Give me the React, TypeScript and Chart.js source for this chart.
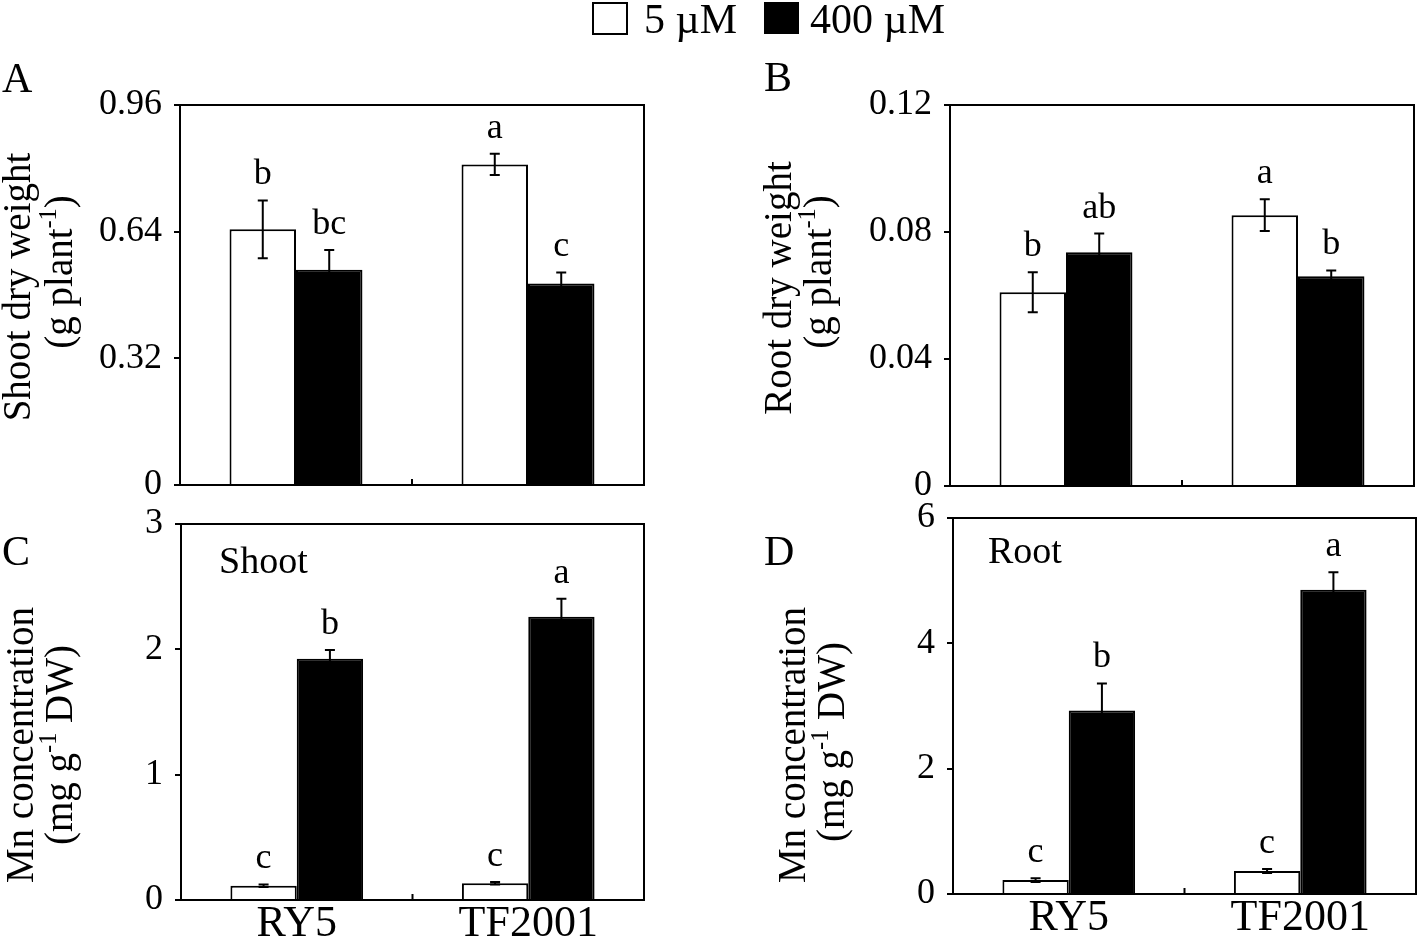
import React, { useEffect, useRef } from "react";
import { Chart, registerables } from "chart.js";

Chart.register(...registerables);

// ---------------- DATA ----------------
const categories = ["RY5", "TF2001"];
const seriesLabels = ["5 µM", "400 µM"];

// A: shoot dry weight (g plant-1)
const shootDW5 = [0.646, 0.81];
const shootDW400 = [0.544, 0.509];
const shootDWErr5 = [0.073, 0.027];
const shootDWErr400 = [0.05, 0.028];
const shootDWLetters5 = ["b", "a"];
const shootDWLetters400 = ["bc", "c"];
const shootDWTicks = [0, 0.32, 0.64, 0.96];
const shootDWTickLabels = ["0", "0.32", "0.64", "0.96"];

// B: root dry weight (g plant-1)
const rootDW5 = [0.061, 0.0853];
const rootDW400 = [0.0736, 0.0661];
const rootDWErr5 = [0.0063, 0.005];
const rootDWErr400 = [0.0059, 0.0018];
const rootDWLetters5 = ["b", "a"];
const rootDWLetters400 = ["ab", "b"];
const rootDWTicks = [0, 0.04, 0.08, 0.12];
const rootDWTickLabels = ["0", "0.04", "0.08", "0.12"];

// C: shoot Mn concentration (mg g-1 DW)
const shootMn5 = [0.114, 0.133];
const shootMn400 = [1.925, 2.26];
const shootMnErr5 = [0.01, 0.01];
const shootMnErr400 = [0.07, 0.144];
const shootMnLetters5 = ["c", "c"];
const shootMnLetters400 = ["b", "a"];
const shootMnTicks = [0, 1, 2, 3];
const shootMnTickLabels = ["0", "1", "2", "3"];

// D: root Mn concentration (mg g-1 DW)
const rootMn5 = [0.223, 0.367];
const rootMn400 = [2.93, 4.856];
const rootMnErr5 = [0.03, 0.03];
const rootMnErr400 = [0.43, 0.28];
const rootMnLetters5 = ["c", "c"];
const rootMnLetters400 = ["b", "a"];
const rootMnTicks = [0, 2, 4, 6];
const rootMnTickLabels = ["0", "2", "4", "6"];

// ---------------- LAYOUT / STYLE ----------------
const W = 1417;
const H = 940;
const FONT = "'Liberation Serif', 'Times New Roman', 'DejaVu Serif', serif";

type Seg = { t: string; sup?: boolean };
type TitleLine = { segs: Seg[]; x: number; cy: number };

type PanelCfg = {
  left: number;
  right: number;
  top: number;
  bottom: number;
  xHeight: number;
  showX: boolean;
  yTicks: number[];
  yTickLabels: string[];
  d5: number[];
  d400: number[];
  e5: number[];
  e400: number[];
  l5: string[];
  l400: string[];
  titles: TitleLine[];
  letter: { t: string; x: number; y: number };
  note?: { t: string; x: number; y: number };
  legend?: boolean;
};

const panels: PanelCfg[] = [
  {
    left: 180, right: 644, top: 105, bottom: 485, xHeight: 0, showX: false,
    yTicks: shootDWTicks, yTickLabels: shootDWTickLabels,
    d5: shootDW5, d400: shootDW400, e5: shootDWErr5, e400: shootDWErr400,
    l5: shootDWLetters5, l400: shootDWLetters400,
    titles: [
      { segs: [{ t: "Shoot dry weight" }], x: 30, cy: 287 },
      { segs: [{ t: "(g plant" }, { t: "-1", sup: true }, { t: ")" }], x: 72, cy: 272 },
    ],
    letter: { t: "A", x: 2, y: 92 },
    legend: true,
  },
  {
    left: 950, right: 1414, top: 105, bottom: 486, xHeight: 0, showX: false,
    yTicks: rootDWTicks, yTickLabels: rootDWTickLabels,
    d5: rootDW5, d400: rootDW400, e5: rootDWErr5, e400: rootDWErr400,
    l5: rootDWLetters5, l400: rootDWLetters400,
    titles: [
      { segs: [{ t: "Root dry weight" }], x: 791, cy: 288 },
      { segs: [{ t: "(g plant" }, { t: "-1", sup: true }, { t: ")" }], x: 831, cy: 272 },
    ],
    letter: { t: "B", x: 764, y: 91 },
  },
  {
    left: 181, right: 644, top: 524, bottom: 900, xHeight: 40, showX: true,
    yTicks: shootMnTicks, yTickLabels: shootMnTickLabels,
    d5: shootMn5, d400: shootMn400, e5: shootMnErr5, e400: shootMnErr400,
    l5: shootMnLetters5, l400: shootMnLetters400,
    titles: [
      { segs: [{ t: "Mn concentration" }], x: 33, cy: 745 },
      { segs: [{ t: "(mg g" }, { t: "-1", sup: true }, { t: " DW)" }], x: 72, cy: 745 },
    ],
    letter: { t: "C", x: 2, y: 565 },
    note: { t: "Shoot", x: 219, y: 573 },
  },
  {
    left: 953, right: 1416, top: 518, bottom: 894, xHeight: 40, showX: true,
    yTicks: rootMnTicks, yTickLabels: rootMnTickLabels,
    d5: rootMn5, d400: rootMn400, e5: rootMnErr5, e400: rootMnErr400,
    l5: rootMnLetters5, l400: rootMnLetters400,
    titles: [
      { segs: [{ t: "Mn concentration" }], x: 805, cy: 745 },
      { segs: [{ t: "(mg g" }, { t: "-1", sup: true }, { t: " DW)" }], x: 844, cy: 742 },
    ],
    letter: { t: "D", x: 764, y: 565 },
    note: { t: "Root", x: 988, y: 563 },
  },
];

function drawRotatedRich(ctx: CanvasRenderingContext2D, segs: Seg[], baselineX: number, centerY: number, size: number) {
  const supSize = size * 0.62;
  ctx.save();
  ctx.translate(baselineX, centerY);
  ctx.rotate(-Math.PI / 2);
  ctx.textAlign = "left";
  ctx.textBaseline = "alphabetic";
  ctx.fillStyle = "#000";
  let total = 0;
  const widths = segs.map((s) => {
    ctx.font = `${s.sup ? supSize : size}px ${FONT}`;
    const w = ctx.measureText(s.t).width;
    total += w;
    return w;
  });
  let x = -total / 2;
  segs.forEach((s, i) => {
    ctx.font = `${s.sup ? supSize : size}px ${FONT}`;
    ctx.fillText(s.t, x, s.sup ? -size * 0.4 : 0);
    x += widths[i];
  });
  ctx.restore();
}

function makeExtrasPlugin(p: PanelCfg) {
  return {
    id: "extras",
    afterDraw(chart: any) {
      const ctx: CanvasRenderingContext2D = chart.ctx;
      const ca = chart.chartArea;
      const xs = chart.scales.x;
      const ys = chart.scales.y;
      ctx.save();
      // error bars + significance letters
      const errs = [p.e5, p.e400];
      const vals = [p.d5, p.d400];
      const lets = [p.l5, p.l400];
      ctx.strokeStyle = "#000";
      ctx.lineWidth = 2;
      for (let di = 0; di < 2; di++) {
        const meta = chart.getDatasetMeta(di);
        meta.data.forEach((bar: any, j: number) => {
          const v = vals[di][j];
          const e = errs[di][j];
          const x = bar.x;
          const yTop = ys.getPixelForValue(v + e);
          const yBot = ys.getPixelForValue(Math.max(v - e, 0));
          const cap = 5;
          ctx.beginPath();
          ctx.moveTo(x, yTop);
          ctx.lineTo(x, yBot);
          ctx.moveTo(x - cap, yTop);
          ctx.lineTo(x + cap, yTop);
          ctx.moveTo(x - cap, yBot);
          ctx.lineTo(x + cap, yBot);
          ctx.stroke();
          ctx.fillStyle = "#000";
          ctx.font = `36px ${FONT}`;
          ctx.textAlign = "center";
          ctx.textBaseline = "alphabetic";
          ctx.fillText(lets[di][j], x, yTop - 16);
        });
      }
      // box
      ctx.lineWidth = 2;
      ctx.strokeStyle = "#000";
      ctx.strokeRect(ca.left, ca.top, ca.right - ca.left, ca.bottom - ca.top);
      // middle tick
      const mx = (xs.getPixelForValue(0) + xs.getPixelForValue(1)) / 2;
      ctx.beginPath();
      ctx.moveTo(mx, ca.bottom);
      ctx.lineTo(mx, ca.bottom - 6);
      ctx.stroke();
      // axis titles
      p.titles.forEach((t) => drawRotatedRich(ctx, t.segs, t.x, t.cy, 39));
      // panel letter
      ctx.fillStyle = "#000";
      ctx.textAlign = "left";
      ctx.textBaseline = "alphabetic";
      ctx.font = `42px ${FONT}`;
      ctx.fillText(p.letter.t, p.letter.x, p.letter.y);
      // note
      if (p.note) {
        ctx.font = `38px ${FONT}`;
        ctx.fillText(p.note.t, p.note.x, p.note.y);
      }
      // legend
      if (p.legend) {
        ctx.lineWidth = 2;
        ctx.fillStyle = "#fff";
        ctx.fillRect(593, 3, 34, 31);
        ctx.strokeRect(593, 3, 34, 31);
        ctx.fillStyle = "#000";
        ctx.fillRect(764, 2, 35, 32);
        ctx.font = `42px ${FONT}`;
        ctx.fillText(seriesLabels[0], 644, 33);
        ctx.fillText(seriesLabels[1], 810, 33);
      }
      ctx.restore();
    },
  };
}

function buildConfig(p: PanelCfg): any {
  return {
    type: "bar",
    data: {
      labels: categories,
      datasets: [
        {
          label: seriesLabels[0],
          data: p.d5,
          backgroundColor: "#ffffff",
          borderColor: "#000000",
          borderWidth: 2,
          categoryPercentage: 0.573,
          barPercentage: 1,
        },
        {
          label: seriesLabels[1],
          data: p.d400,
          backgroundColor: "#000000",
          borderColor: "#000000",
          borderWidth: 2,
          categoryPercentage: 0.573,
          barPercentage: 1,
        },
      ],
    },
    options: {
      responsive: false,
      animation: false,
      devicePixelRatio: 1,
      layout: {
        padding: { left: 0, top: p.top, right: W - p.right, bottom: H - p.bottom - p.xHeight },
      },
      plugins: { legend: { display: false }, tooltip: { enabled: false }, title: { display: false } },
      scales: {
        x: {
          type: "category",
          offset: true,
          grid: { display: false },
          border: { display: false },
          ticks: {
            display: p.showX,
            color: "#000",
            padding: 0,
            maxRotation: 0,
            autoSkip: false,
            font: { family: FONT, size: 44, lineHeight: 0.75 },
          },
          afterFit: (s: any) => {
            s.height = p.xHeight;
          },
        },
        y: {
          min: p.yTicks[0],
          max: p.yTicks[p.yTicks.length - 1],
          afterBuildTicks: (s: any) => {
            s.ticks = p.yTicks.map((v) => ({ value: v }));
          },
          ticks: {
            color: "#000",
            padding: 12,
            font: { family: FONT, size: 36 },
            callback: (_v: any, i: number) => p.yTickLabels[i],
          },
          grid: { drawOnChartArea: false, drawTicks: true, tickLength: 6, color: "#000", lineWidth: 2 },
          border: { display: true, color: "#000", width: 2 },
          afterFit: (s: any) => {
            s.width = p.left;
          },
        },
      },
    },
    plugins: [makeExtrasPlugin(p)],
  };
}

function PanelChart({ cfg }: { cfg: PanelCfg }) {
  const ref = useRef<HTMLCanvasElement | null>(null);
  useEffect(() => {
    if (!ref.current) return;
    const chart = new Chart(ref.current, buildConfig(cfg));
    return () => chart.destroy();
  }, [cfg]);
  return (
    <canvas
      ref={ref}
      width={W}
      height={H}
      style={{ position: "absolute", left: 0, top: 0, width: W, height: H }}
    />
  );
}

export default function App() {
  return (
    <div style={{ position: "absolute", left: 0, top: 0, width: W, height: H, background: "#fff", overflow: "hidden" }}>
      {panels.map((p, i) => (
        <PanelChart key={i} cfg={p} />
      ))}
    </div>
  );
}
